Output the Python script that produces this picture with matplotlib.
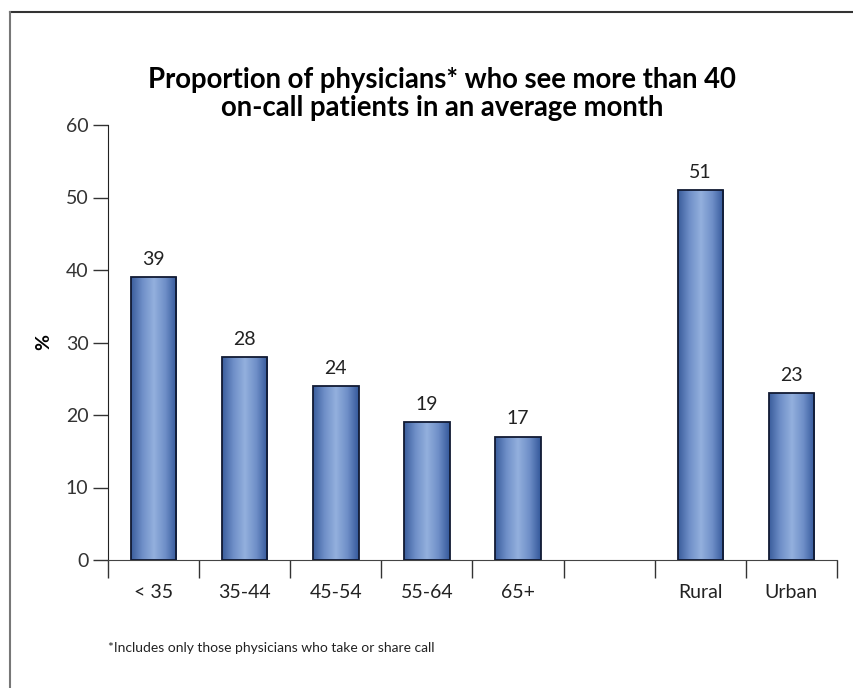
import numpy as np
import matplotlib.pyplot as plt
from matplotlib.colors import LinearSegmentedColormap
from matplotlib.lines import Line2D

# data
categories = ['< 35', '35-44', '45-54', '55-64', '65+', '', 'Rural', 'Urban']
values = [39, 28, 24, 19, 17, None, 51, 23]
y_ticks = [0, 10, 20, 30, 40, 50, 60]

title = 'Proportion of physicians* who see more than 40\non-call patients in an average month'
footnote = '*Includes only those physicians who take or share call'

plt.rcParams['font.family'] = ['Lato', 'DejaVu Sans']

fig = plt.figure(figsize=(8.54, 6.88), dpi=100, facecolor='white')
ax = fig.add_axes([108 / 854, 1 - 560 / 688, 729 / 854, 435 / 688])

# gradient for the bars: dark edges, light middle
grad_cmap = LinearSegmentedColormap.from_list(
    'bar', ['#3a5d9c', '#6f8fc8', '#93b0dd', '#6f8fc8', '#34589a'])
grad = np.linspace(0, 1, 200).reshape(1, -1)

x = np.arange(len(categories))
for xi, v in zip(x, values):
    if v is None:
        continue
    bar = ax.bar(xi, v, width=0.5, color='none', edgecolor='#111a33',
                 linewidth=1.3, zorder=3)[0]
    im = ax.imshow(grad, cmap=grad_cmap, aspect='auto', zorder=2,
                   extent=(xi - 0.25, xi + 0.25, 0, v))
    im.set_clip_path(bar)
    ax.text(xi, v + 1.3, str(v), ha='center', va='bottom',
            fontsize=14, color='#222222')

ax.set_xlim(-0.5, len(categories) - 0.5)
ax.set_ylim(0, 60)
ax.set_yticks(y_ticks)
ax.set_yticklabels([str(t) for t in y_ticks], fontsize=14, color='#333333')

# x ticks sit between the categories, labels under the centres
ax.set_xticks(np.arange(len(categories) + 1) - 0.5)
ax.set_xticklabels([])
ax.tick_params(axis='x', direction='out', length=13, width=1, color='#333333')
ax.tick_params(axis='y', direction='out', length=11, width=1, color='#333333', pad=3)
for xi, lab in zip(x, categories):
    ax.text(xi, -4.55, lab, ha='center', va='center', fontsize=14,
            color='#222222')

for s in ['top', 'right']:
    ax.spines[s].set_visible(False)
ax.spines['left'].set_color('#222222')
ax.spines['bottom'].set_color('#444444')

ax.set_ylabel('%', fontsize=14, fontweight='bold', labelpad=10)

fig.text(442 / 854, 1 - 94 / 688, title, ha='center', va='center',
         fontsize=19.8, fontweight='bold', linespacing=1.05)
fig.text(108 / 854, 1 - 648 / 688, footnote, ha='left', va='center',
         fontsize=10, color='#222222')

# frame around the figure (open at right and bottom)
fig.add_artist(Line2D([10 / 854, 1], [1 - 12 / 688] * 2, color='#333333',
                      linewidth=1.5, transform=fig.transFigure))
fig.add_artist(Line2D([10 / 854] * 2, [0, 1 - 12 / 688], color='#777777',
                      linewidth=1.5, transform=fig.transFigure))

fig.savefig('out.png', dpi=100)
